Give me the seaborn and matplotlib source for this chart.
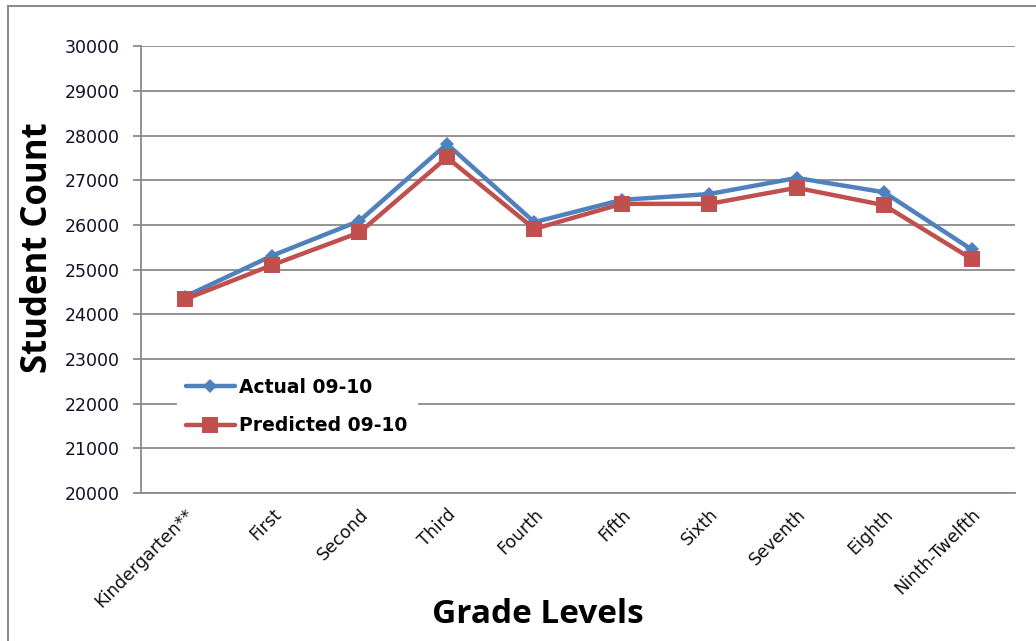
import matplotlib
matplotlib.use("Agg")
import matplotlib.pyplot as plt
import seaborn as sns
import pandas as pd
import numpy as np
from matplotlib.patches import Rectangle

grades = ["Kindergarten**", "First", "Second", "Third", "Fourth", "Fifth",
          "Sixth", "Seventh", "Eighth", "Ninth-Twelfth"]
actual = [24390, 25310, 26090, 27810, 26060, 26560, 26690, 27050, 26730, 25450]
predicted = [24330, 25100, 25830, 27510, 25910, 26470, 26470, 26830, 26440, 25240]
series_names = ["Actual 09-10", "Predicted 09-10"]
y_ticks = list(range(20000, 30001, 1000))

df = pd.DataFrame({
    "pos": list(range(len(grades))) * 2,
    "value": actual + predicted,
    "series": [series_names[0]] * len(grades) + [series_names[1]] * len(grades),
})

sns.set_style("white")
plt.rcParams["font.family"] = ["DejaVu Sans"]
plt.rcParams["text.color"] = "black"

fig = plt.figure(figsize=(10.36, 6.41), dpi=100)
ax = fig.add_axes([0.136, 0.231, 0.844, 0.697])

palette = {series_names[0]: "#4F81BD", series_names[1]: "#C0504D"}
markers = {series_names[0]: "D", series_names[1]: "s"}
sns.lineplot(data=df, x="pos", y="value", hue="series", style="series",
             markers=markers, dashes=False, palette=palette, ax=ax,
             linewidth=3.2, markersize=11.5, markeredgewidth=0, sort=False)
for line in ax.get_lines():
    if line.get_marker() == "D":
        line.set_markersize(7.5)

ax.set_xlim(-0.5, len(grades) - 0.5)
ax.set_ylim(20000, 30000)
ax.set_yticks(y_ticks)
ax.set_yticklabels([str(v) for v in y_ticks], fontsize=12.5, color="#101028")
ax.set_xticks(range(len(grades)))
ax.set_xticklabels(grades, rotation=45, ha="right", rotation_mode="anchor",
                   fontsize=12.5, color="#101010")
ax.set_xticks(np.arange(-0.5, len(grades), 1.0), minor=True)
ax.tick_params(axis="x", which="major", length=0, pad=9)
ax.tick_params(axis="x", which="minor", length=6, color="#8a8a8a", width=1.3, direction="out")
ax.tick_params(axis="y", length=6, color="#8a8a8a", width=1.3, direction="out", pad=9, left=True)

ax.grid(axis="y", color="#939393", linewidth=1.4)
ax.grid(axis="x", visible=False)
for s in ["top", "right"]:
    ax.spines[s].set_visible(False)
for s in ["left", "bottom"]:
    ax.spines[s].set_color("#8a8a8a")
    ax.spines[s].set_linewidth(1.3)

ax.set_xlabel("Grade Levels", fontsize=24, fontweight="bold", family="Open Sans", color="black")
ax.xaxis.set_label_coords(0.454, -0.273)
ax.xaxis.label.set_va("center")
ax.set_ylabel("Student Count", fontsize=25, fontweight="bold", family="Open Sans", color="black")
ax.yaxis.set_label_coords(-0.118, 0.55)
ax.yaxis.label.set_va("center")

leg = ax.legend(loc="upper left", bbox_to_anchor=(0.03, 0.30), frameon=True,
                fancybox=False, framealpha=1, edgecolor="white", facecolor="white",
                prop={"weight": "bold", "size": 13.5}, handlelength=2.6,
                labelspacing=1.05, handletextpad=0.25, borderpad=0.5)
for t in leg.get_texts():
    t.set_color("black")
for h in leg.get_lines():
    if h.get_marker() == "D":
        h.set_markersize(7.5)

fig.patches.append(Rectangle((8 / 1036, -0.1), 1.2, 1 - 6 / 641 + 0.1,
                             transform=fig.transFigure, fill=False,
                             edgecolor="#8c8c8c", linewidth=1.5))

fig.savefig("out.png", dpi=100)
